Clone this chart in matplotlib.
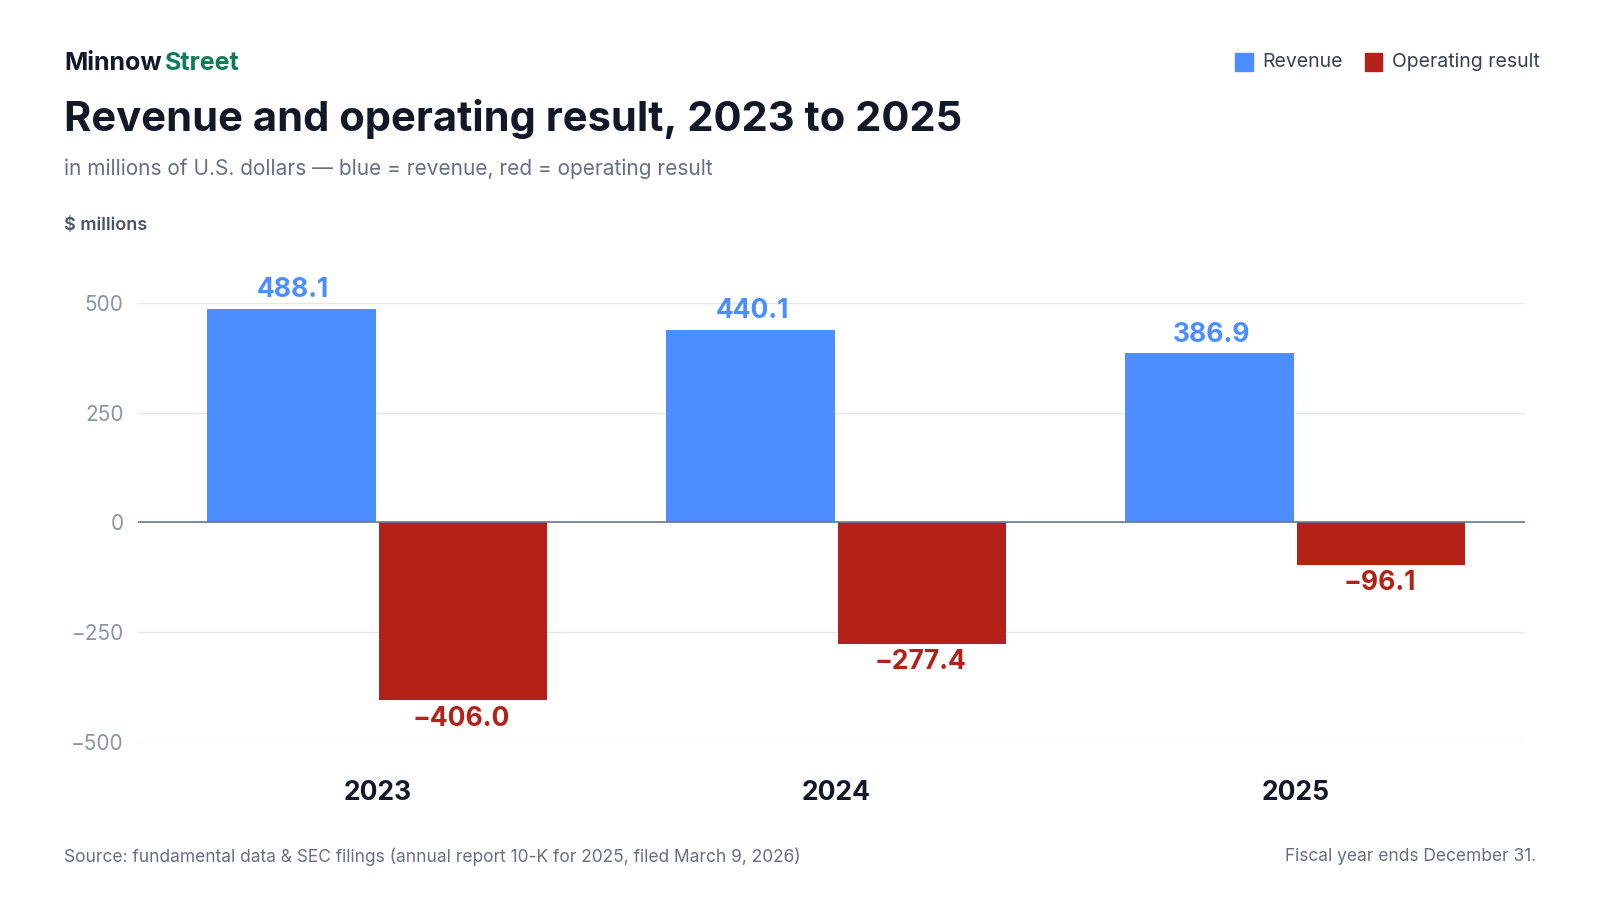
import numpy as np
import matplotlib
matplotlib.use("Agg")
import matplotlib.pyplot as plt

plt.rcParams['font.family'] = ['Inter', 'DejaVu Sans']

years = ["2023", "2024", "2025"]
revenue = [488.1, 440.1, 386.9]
op_result = [-406.0, -277.4, -96.1]
yticks = [-500, -250, 0, 250, 500]

BLUE = "#4C8DFF"
RED = "#B32118"
DARK = "#111827"
GREY = "#667085"

fig = plt.figure(figsize=(16, 9), dpi=100)
ax = fig.add_axes([0.086, 0.176, 0.867, 0.487])

x = np.arange(len(years))
w = 0.367
ax.bar(x - w / 2 - 0.003, revenue, w, color=BLUE, zorder=3)
ax.bar(x + w / 2 + 0.003, op_result, w, color=RED, zorder=3)

for xi, v in zip(x, revenue):
    ax.text(xi - w / 2, v + 12, f"{v:.1f}", ha="center", va="bottom",
            fontsize=19, fontweight="bold", color=BLUE)
for xi, v in zip(x, op_result):
    ax.text(xi + w / 2, v - 12, f"\u2212{abs(v):.1f}", ha="center", va="top",
            fontsize=19, fontweight="bold", color=RED)

ax.set_xlim(-0.522, 2.5)
ax.set_ylim(-500, 500)
ax.set_yticks(yticks)
ax.set_yticklabels([f"\u2212{abs(t)}" if t < 0 else str(t) for t in yticks])
ax.tick_params(axis="y", length=0, labelsize=15, labelcolor="#8A94A6", pad=10)
ax.set_xticks(x)
ax.set_xticklabels(years)
ax.tick_params(axis="x", length=0, labelsize=19, labelcolor=DARK, pad=28)
for lab in ax.get_xticklabels():
    lab.set_fontweight("bold")
ax.grid(axis="y", color="#E5E7EB", linewidth=1, zorder=0)
ax.axhline(0, color="#6B7A90", linewidth=1.2, zorder=4)
for s in ax.spines.values():
    s.set_visible(False)

fig.text(0.04, 0.745, "$ millions", fontsize=13, color="#4B5563", fontweight="semibold")

fig.text(0.04, 0.93, "Minnow", fontsize=18, fontweight="bold", color=DARK, va="center")
fig.text(0.103, 0.93, "Street", fontsize=18, fontweight="bold", color="#0E7C57", va="center")
fig.text(0.04, 0.868, "Revenue and operating result, 2023 to 2025", fontsize=30,
         fontweight="bold", color=DARK, va="center")
fig.text(0.04, 0.812, "in millions of U.S. dollars \u2014 blue = revenue, red = operating result",
         fontsize=15, color=GREY, va="center")

fig.patches.append(plt.Rectangle((0.772, 0.921), 0.011, 0.02, transform=fig.transFigure,
                                 color=BLUE, figure=fig))
fig.text(0.789, 0.931, "Revenue", fontsize=14, color="#374151", va="center")
fig.patches.append(plt.Rectangle((0.853, 0.921), 0.011, 0.02, transform=fig.transFigure,
                                 color=RED, figure=fig))
fig.text(0.870, 0.931, "Operating result", fontsize=14, color="#374151", va="center")

fig.text(0.04, 0.048, "Source: fundamental data & SEC filings (annual report 10-K for 2025, filed March 9, 2026)",
         fontsize=12.5, color=GREY, va="center")
fig.text(0.96, 0.048, "Fiscal year ends December 31.", fontsize=12.5, color=GREY,
         va="center", ha="right")

fig.savefig("out.png", dpi=100, facecolor="white")
